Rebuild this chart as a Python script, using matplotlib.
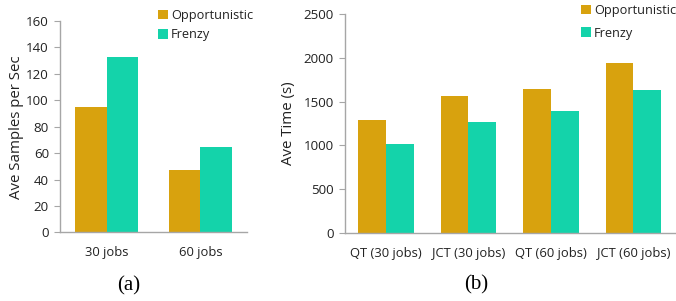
import numpy as np
import matplotlib
matplotlib.use('Agg')
import matplotlib.pyplot as plt

plt.rcParams['font.family'] = ['Open Sans', 'DejaVu Sans']

SERIES = ['Opportunistic', 'Frenzy']
COLORS = ['#D8A20E', '#14D3AA']
AXIS_GRAY = '#A6A6A6'
TEXT = '#222222'

# panel (a)
cats_a = ['30 jobs', '60 jobs']
opp_a = [95, 47]
frenzy_a = [133, 64.5]

# panel (b)
cats_b = ['QT (30 jobs)', 'JCT (30 jobs)', 'QT (60 jobs)', 'JCT (60 jobs)']
opp_b = [1290, 1560, 1643, 1940]
frenzy_b = [1012, 1263, 1396, 1632]

fig = plt.figure(figsize=(6.76, 3.01), dpi=100)
ax_a = fig.add_axes([0.0888, 0.228, 0.277, 0.702])
ax_b = fig.add_axes([0.510, 0.226, 0.488, 0.727])

W = 0.335


def draw(ax, cats, opp, frz, ylim, step, ylabel, lpad, leg_anchor, leg_space):
    x = np.arange(len(cats))
    ax.bar(x - W / 2, opp, W, color=COLORS[0], label=SERIES[0])
    ax.bar(x + W / 2, frz, W, color=COLORS[1], label=SERIES[1])
    ax.set_xlim(-0.5, len(cats) - 0.5)
    ax.set_ylim(0, ylim)
    ax.set_yticks(np.arange(0, ylim + 1, step))
    ax.set_xticks(x)
    ax.set_xticklabels(cats)
    for s in ['top', 'right']:
        ax.spines[s].set_visible(False)
    for s in ['left', 'bottom']:
        ax.spines[s].set_color(AXIS_GRAY)
        ax.spines[s].set_linewidth(1.0)
    ax.tick_params(axis='y', colors=AXIS_GRAY, labelcolor=TEXT,
                   labelsize=9.6, length=4, pad=4)
    ax.tick_params(axis='x', length=0, labelcolor=TEXT, labelsize=9.4, pad=10)
    ax.set_ylabel(ylabel, fontsize=10.8, color=TEXT, labelpad=lpad)
    # legend anchored in figure pixels (from top-left)
    leg = ax.legend(loc='upper left',
                    bbox_to_anchor=(leg_anchor[0] / 676, 1 - leg_anchor[1] / 301),
                    bbox_transform=fig.transFigure,
                    frameon=False, fontsize=9.2, handlelength=0.75, handleheight=0.75,
                    handletextpad=0.25, labelspacing=leg_space, borderaxespad=0,
                    borderpad=0)
    for t in leg.get_texts():
        t.set_color(TEXT)


draw(ax_a, cats_a, opp_a, frenzy_a, 160, 20, 'Ave Samples per Sec', 1.5, (158, 9), 0.5)
draw(ax_b, cats_b, opp_b, frenzy_b, 2500, 500, 'Ave Time (s)', 5, (581, 4), 0.75)

fig.text(129 / 676, 1 - 286 / 301, '(a)', family='Liberation Serif', fontsize=15,
         ha='center', va='center')
fig.text(476 / 676, 1 - 285 / 301, '(b)', family='Liberation Serif', fontsize=15,
         ha='center', va='center')

fig.savefig('out.png', dpi=100)
